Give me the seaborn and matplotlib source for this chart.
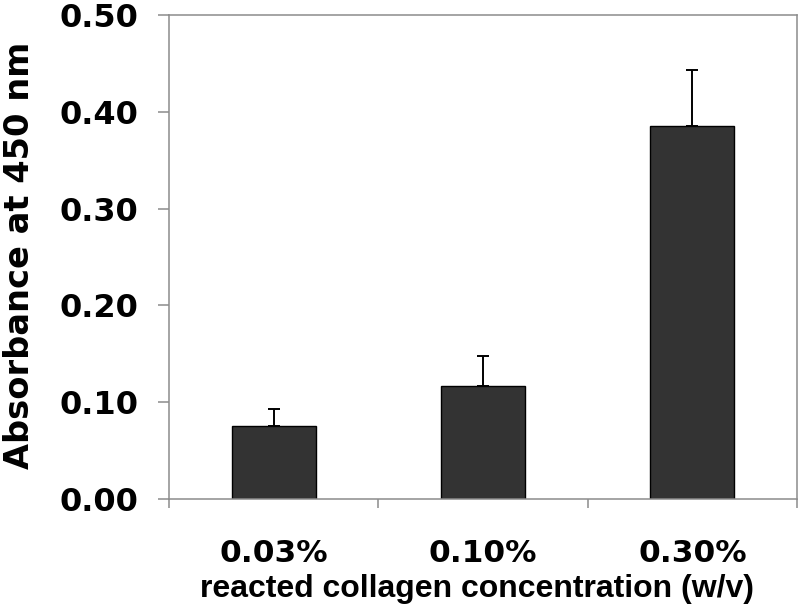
import matplotlib
matplotlib.use("Agg")
import matplotlib.pyplot as plt
import seaborn as sns
import pandas as pd
import numpy as np
from matplotlib.ticker import FixedLocator

categories = ["0.03%", "0.10%", "0.30%"]
absorbance = [0.075, 0.117, 0.385]
upper_err = [0.018, 0.031, 0.058]
y_ticks = [0.0, 0.1, 0.2, 0.3, 0.4, 0.5]

sns.set_theme(style="white")
plt.rcParams["font.family"] = ["DejaVu Sans"]
plt.rcParams["text.color"] = "black"
plt.rcParams["axes.labelcolor"] = "black"
plt.rcParams["xtick.labelcolor"] = "black"
plt.rcParams["ytick.labelcolor"] = "black"

df = pd.DataFrame({"conc": categories, "abs": absorbance})

fig = plt.figure(figsize=(8, 6.05), dpi=100)
ax = fig.add_axes([169 / 800, 1 - 499 / 605, (797 - 169) / 800, (499 - 15) / 605])

sns.barplot(data=df, x="conc", y="abs", ax=ax, color="#333333", width=0.4,
            edgecolor="black", linewidth=1.0, errorbar=None, saturation=1)

xs = np.arange(len(categories))
ax.errorbar(xs, absorbance, yerr=[np.zeros(len(categories)), upper_err],
            fmt="none", ecolor="black", elinewidth=1.4, capsize=4, capthick=1.4)

ax.set_xlim(-0.5, len(categories) - 0.5)
ax.set_ylim(0, 0.5)
ax.set_yticks(y_ticks)
ax.set_yticklabels([f"{v:.2f}" for v in y_ticks], fontsize=23, fontweight="bold",
                   fontfamily="DejaVu Sans")
ax.set_xticks(xs)
ax.set_xticklabels(categories, fontsize=22.5, fontweight="bold", fontfamily="DejaVu Sans")
ax.xaxis.set_minor_locator(FixedLocator(np.arange(-0.5, len(categories), 1.0)))

for sp in ax.spines.values():
    sp.set_visible(True)
    sp.set_color("#8c8c8c")
    sp.set_linewidth(1.1)

ax.tick_params(axis="y", which="major", direction="out", length=8, width=1.1,
               color="#8c8c8c", pad=14, left=True)
ax.tick_params(axis="x", which="major", length=0, pad=29, bottom=True)
ax.tick_params(axis="x", which="minor", direction="out", length=6.5, width=1.1,
               color="#8c8c8c", bottom=True)

ax.set_xlabel("reacted collagen concentration (w/v)", fontsize=23, fontweight="bold",
              fontfamily="Liberation Sans", labelpad=4)
ax.xaxis.label.set_x(0.490)
ax.set_ylabel("Absorbance at 450 nm", fontsize=24.2, fontweight="bold",
              fontfamily="DejaVu Sans", labelpad=17)
ax.yaxis.label.set_y(0.503)

fig.savefig("out.png", dpi=100)
